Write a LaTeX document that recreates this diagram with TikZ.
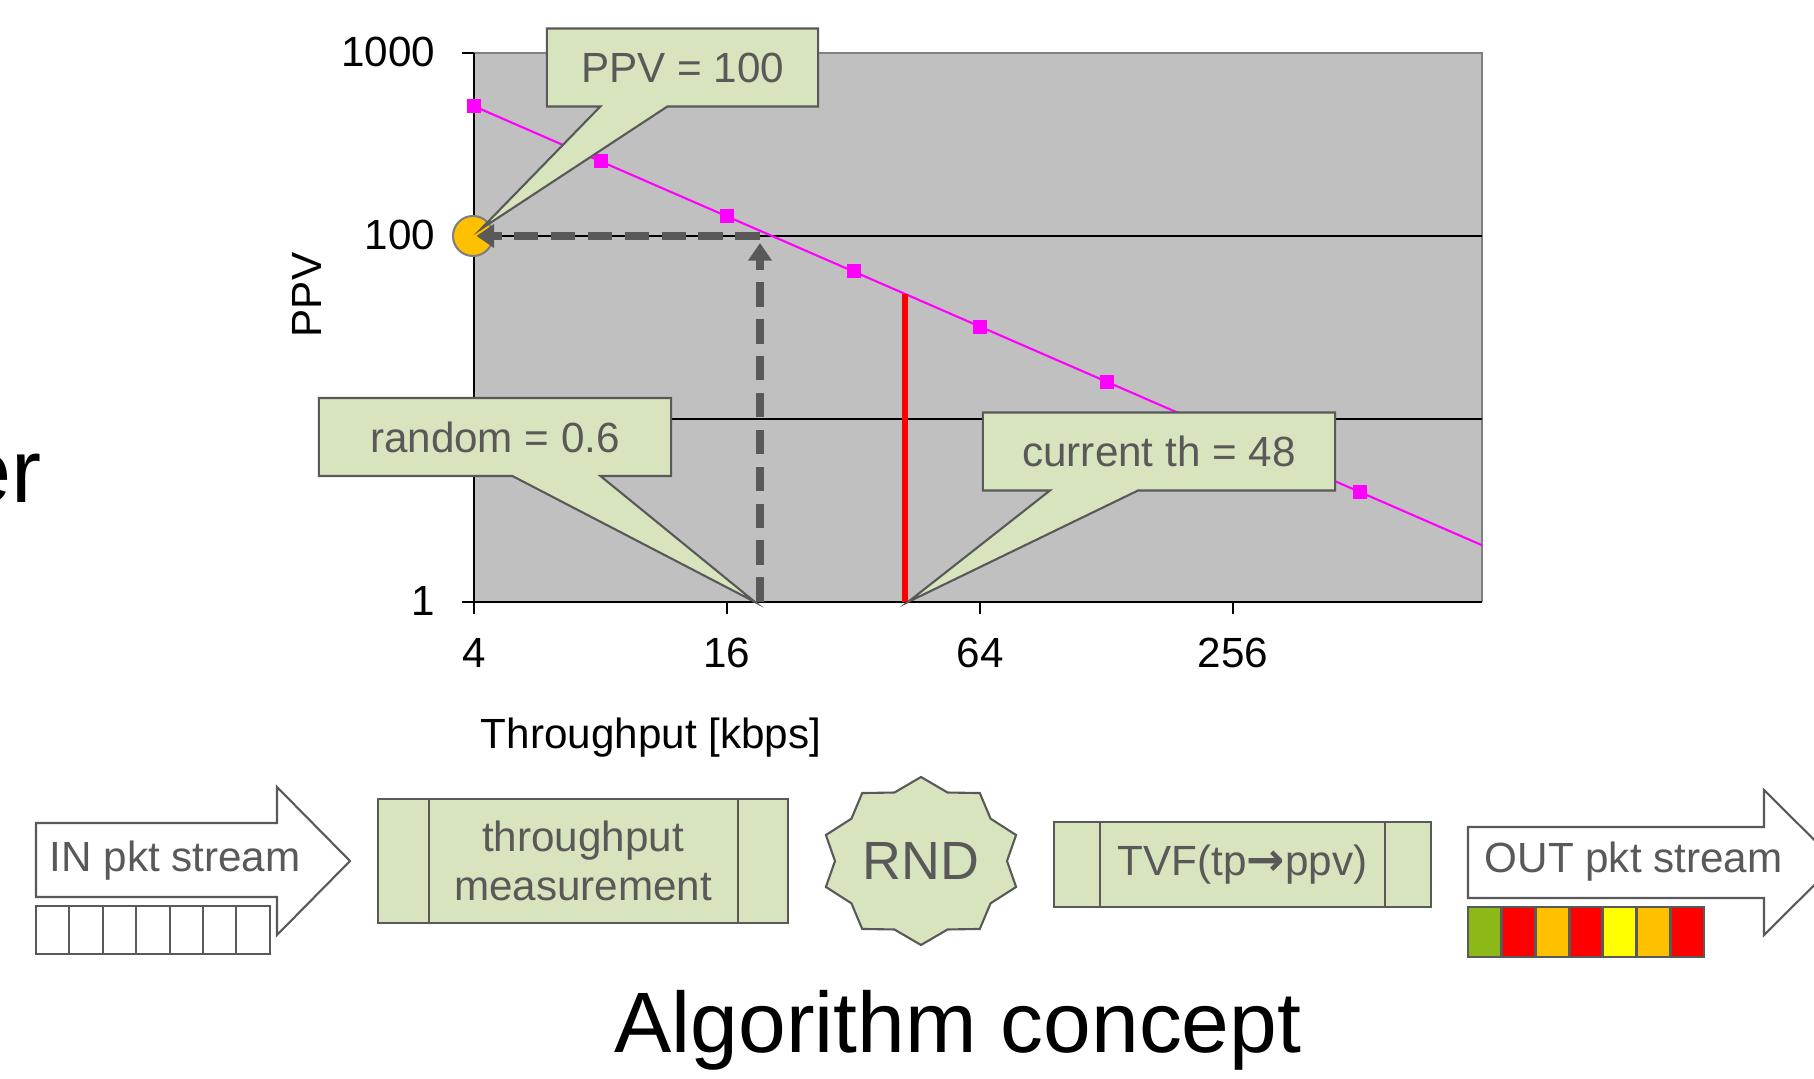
\documentclass[tikz,border=0pt]{standalone}
\usepackage{fontspec}
\setmainfont{Liberation Sans}
\newfontfamily\arrowfont{DejaVu Sans}
\usetikzlibrary{shapes.callouts,arrows.meta}

\definecolor{notegreen}{HTML}{D7E4BD}
\definecolor{linegray}{HTML}{595959}
\definecolor{plotgray}{HTML}{C0C0C0}
\definecolor{frameg}{HTML}{808080}
\definecolor{ppvorange}{HTML}{FFC000}
\definecolor{ppvline}{RGB}{255,0,255}
\definecolor{hotred}{RGB}{255,0,0}
\definecolor{pktyellow}{RGB}{255,255,0}
\definecolor{okgreen}{RGB}{140,184,24}

\begin{document}
\begin{tikzpicture}[x=0.01cm, y=-0.01cm,
   notebox/.style={rectangle callout, draw=linegray, fill=notegreen, line width=0.6pt,
      text=linegray, font=\fontsize{12}{14}\selectfont, inner sep=0pt, minimum height=0.78cm},
   procbox/.style={rectangle, draw=linegray, fill=notegreen, line width=0.6pt,
      text=linegray, font=\fontsize{12}{14}\selectfont, inner sep=0pt, align=center},
   procline/.style={draw=linegray, line width=0.6pt},
   axislabel/.style={font=\fontsize{12}{14}\selectfont, inner sep=0pt},
   streamtext/.style={font=\fontsize{12}{14}\selectfont, text=linegray, inner sep=0pt, anchor=west},
   guide/.style={draw=linegray, line width=2.2pt, dash pattern=on 7pt off 3.5pt,
      -{Triangle[length=5pt,width=6.5pt]}},
   cellbox/.style={draw=linegray, line width=0.6pt}]

\useasboundingbox (0,0) rectangle (1814,1079);
\clip (0,0) rectangle (1814,1079);

% chart
\fill[plotgray] (474,53) rectangle (1482,602);
\draw[frameg, line width=0.6pt] (474,53) -- (1482,53) -- (1482,602);
\draw[line width=0.4pt] (474,236) -- (1482,236) (474,419) -- (1482,419);
\draw[line width=0.6pt] (474,53) -- (474,614) (462,602) -- (1482,602);
\foreach \y in {53,236,419,602} \draw[line width=0.6pt] (462,\y) -- (474,\y);
\foreach \x in {727,980,1233} \draw[line width=0.6pt] (\x,602) -- (\x,614);

\node[axislabel, anchor=base east] (y1000) at (436,67) {1000};
\node[axislabel, anchor=base east] (y100) at (436,250) {100};
\node[axislabel, anchor=base east] (y1) at (436,615) {1};
\node[axislabel, anchor=base] (x4) at (474,667) {4};
\node[axislabel, anchor=base] (x16) at (727,667) {16};
\node[axislabel, anchor=base] (x64) at (980,667) {64};
\node[axislabel, anchor=base] (x256) at (1233,667) {256};
\node[axislabel, anchor=base] (xtitle) at (651,748) {Throughput [kbps]};
\node[axislabel, rotate=90] (ytitle) at (307,295) {PPV};

\draw[ppvline, line width=0.6pt] (474,106.2) -- (1482,545.2);
\foreach \k in {0,...,7}
   \fill[ppvline] ({474+126.5*\k},{106.2+55.09*\k}) ++(-7,-7) rectangle ++(14,14);

\draw[hotred, line width=1.5pt] (905,294) -- (905,602);

\node[circle, draw=frameg, fill=ppvorange, line width=0.6pt, minimum size=0.4cm, inner sep=0pt]
   (ppvdot) at (473,236) {};
\coordinate (cross) at (760,236);
\coordinate (tpfoot) at (760,602);
\draw[guide] (tpfoot) -- ([yshift=-2pt]cross);
\draw[guide] (cross) -- ([xshift=1pt]ppvdot.center);

\node[notebox, minimum width=2.71cm, callout absolute pointer={(481,229)},
   callout pointer width=0.67cm] (ppvnote) at (682.5,67.5) {PPV = 100};
\node[notebox, minimum width=3.52cm, callout absolute pointer={(755,602)},
   callout pointer width=0.88cm] (randnote) at (495,437) {random = 0.6};
\node[notebox, minimum width=3.52cm, callout absolute pointer={(908,602)},
   callout pointer width=0.88cm] (thnote) at (1159,451.5) {current th = 48};

% algorithm chain
\draw[cellbox, fill=white] (36,823) -- (277,823) -- (277,787) -- (350,861)
   -- (277,935) -- (277,897) -- (36,897) -- cycle;
\node[streamtext] (instream) at (49,861) {IN pkt stream};
\foreach \i in {0,...,6}
   \draw[cellbox, fill=white] ({36+33.4*\i},906) rectangle ({36+33.4*(\i+1)},954);

\node[procbox, minimum width=4.10cm, minimum height=1.24cm] (tpmeas) at (583,861)
   {throughput\\measurement};
\draw[procline] ([xshift=0.52cm]tpmeas.north west) -- ([xshift=0.52cm]tpmeas.south west);
\draw[procline] ([xshift=-0.51cm]tpmeas.north east) -- ([xshift=-0.51cm]tpmeas.south east);

\draw[procline, fill=notegreen, shift={(921,861)}] (0:86 and 72)
   \foreach \a in {18,54,...,342} { -- (\a:100 and 84) -- (\a+18:86 and 72) } -- cycle;
\node[text=linegray, font=\fontsize{15.3}{17}\selectfont, inner sep=0pt] (rnd) at (921,861) {RND};

\node[procbox, minimum width=3.77cm, minimum height=0.85cm] (tvf) at (1242.5,864.5)
   {TVF(tp{\arrowfont\bfseries\fontsize{13}{14}\selectfont →}ppv)};
\draw[procline] ([xshift=0.47cm]tvf.north west) -- ([xshift=0.47cm]tvf.south west);
\draw[procline] ([xshift=-0.47cm]tvf.north east) -- ([xshift=-0.47cm]tvf.south east);

\draw[cellbox, fill=white] (1468,827) -- (1764,827) -- (1764,790) -- (1837,862.5)
   -- (1764,935) -- (1764,898) -- (1468,898) -- cycle;
\node[streamtext] (outstream) at (1484,862) {OUT pkt stream};
\foreach \c [count=\i from 0] in {okgreen,hotred,ppvorange,hotred,pktyellow,ppvorange,hotred}
   \draw[cellbox, line width=0.8pt, fill=\c] ({1468+33.7*\i},907) rectangle ({1468+33.7*(\i+1)},957);

\node[font=\fontsize{24.4}{29}\selectfont, inner sep=0pt, anchor=base] (title) at (958,1052)
   {Algorithm concept};
\node[font=\fontsize{25.6}{30}\selectfont, inner sep=0pt, anchor=base east] (cut) at (42,502) {er};

\end{tikzpicture}
\end{document}
